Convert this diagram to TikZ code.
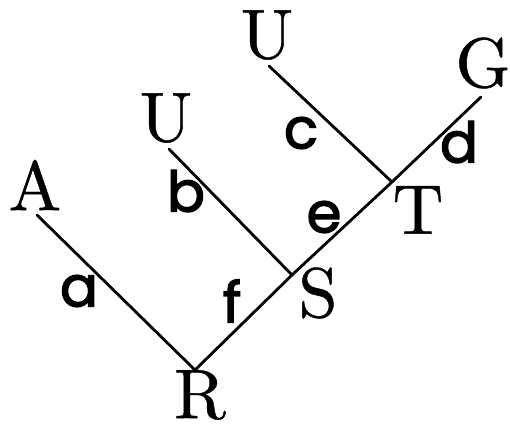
\documentclass[tikz,border=0pt]{standalone}
\usepackage{fontspec}
\newfontfamily\lblfont{Poppins}[FakeBold=2.4]
\newfontfamily\vtxfont{lmroman10-regular.otf}[FakeBold=0.6]
\begin{document}
\begin{tikzpicture}[x=.2mm,y=-.2mm,line width=1.6pt,line cap=round,
  vtx/.style={font=\vtxfont\fontsize{40}{48}\selectfont,inner sep=0pt},
  edg/.style={font=\lblfont\fontsize{32}{38}\selectfont,inner sep=0pt}]
\useasboundingbox (0,0) rectangle (510,425);
\coordinate (r) at (195,370);
\coordinate (s) at (292,275);
\coordinate (t) at (392,182);
\coordinate (g0) at (481,97);
\coordinate (a0) at (37,215);
\coordinate (u1) at (169,149);
\coordinate (u2) at (269,66);
\draw (a0)--(r)--(s)--(t)--(g0);
\draw (u1)--(s) (u2)--(t);
\node[vtx] (A) at (35,185) {A};
\node[vtx] (R) at (200,395) {R};
\node[vtx] (S) at (318,293) {S};
\node[vtx] (T) at (418,210) {T};
\node[vtx] (G) at (483,63) {G};
\node[vtx] (Ub) at (166,118) {U};
\node[vtx] (Uc) at (267,35) {U};
\node[edg] (la) at (79,291) {a};
\node[edg] (lf) at (232,301) {f};
\node[edg] (lb) at (186,191) {b};
\node[edg] (le) at (324,217) {e};
\node[edg] (lc) at (301,133) {c};
\node[edg] (ld) at (459,142) {d};
\end{tikzpicture}
\end{document}
